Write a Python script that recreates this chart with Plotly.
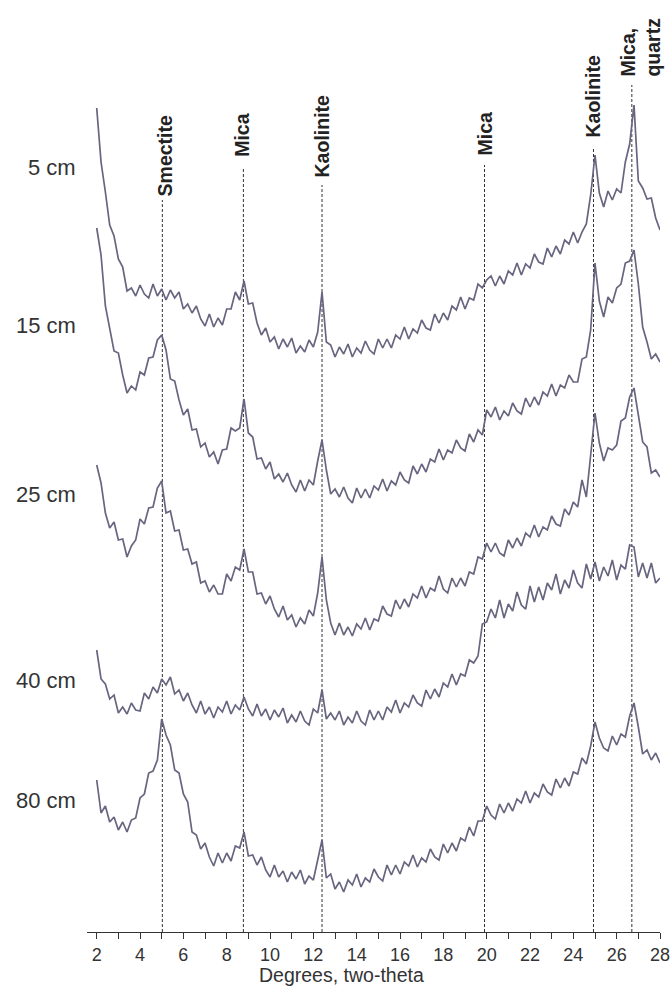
import numpy as np
import plotly.graph_objects as go

# Two-theta sampling grid (degrees)
two_theta = np.round(np.arange(2.0, 28.0001, 0.2), 1)

# Relative intensities (stacked, arbitrary units)
depth_labels = ["5 cm", "15 cm", "25 cm", "40 cm", "80 cm"]
label_levels = [765, 607, 438, 252, 132]

i_5cm = [824,770,740,707,696,673,665,641,644,636,
 647,638,634,648,636,643,632,642,634,640,
 623,628,619,626,613,606,618,605,614,607,
 623,623,640,632,651,628,629,609,597,604,
 590,595,583,593,585,594,579,586,580,592,
 585,600,640,590,587,575,585,578,588,575,
 584,579,591,582,578,593,584,593,584,597,
 593,605,593,603,599,612,604,602,618,609,
 619,612,626,622,635,623,634,632,648,644,
 652,656,646,656,648,661,657,669,657,668,
 664,678,670,668,684,675,686,678,692,688,
 700,689,700,708,737,777,739,725,741,732,
 743,739,770,788,827,751,744,733,734,714,
 702]

i_15cm = [704,677,626,604,581,579,557,539,546,542,
 560,557,574,575,592,597,582,553,551,532,
 517,523,502,503,485,489,475,480,468,482,
 483,504,501,504,533,499,495,473,474,463,
 470,453,458,450,459,447,440,452,441,452,
 447,471,492,462,438,443,435,445,434,429,
 444,434,443,434,446,442,453,441,451,447,
 460,452,449,466,458,468,460,473,470,483,
 472,482,479,492,484,481,498,490,502,497,
 522,515,525,512,521,516,529,521,518,534,
 525,535,527,540,536,548,536,547,544,557,
 550,550,573,575,602,669,631,615,635,629,
 644,648,669,671,682,648,605,590,573,578,
 570]

i_25cm = [467,449,419,404,410,392,393,375,386,392,
 413,408,424,425,444,451,419,421,401,402,
 382,383,368,370,349,351,340,347,338,338,
 358,351,365,362,383,360,360,338,339,328,
 336,323,315,326,312,317,305,314,308,322,
 316,339,375,332,309,297,309,297,305,296,
 308,303,314,302,313,311,326,318,316,332,
 323,333,325,338,334,346,334,344,341,356,
 343,339,354,345,354,346,360,358,375,373,
 389,380,389,379,376,392,384,394,386,399,
 395,407,395,405,402,416,408,406,423,417,
 430,425,452,435,477,519,489,471,484,482,
 487,511,514,535,544,519,490,485,459,462,
 455]

i_40cm = [282,253,248,233,237,219,225,218,229,222,
 221,239,233,245,239,253,247,255,238,242,
 231,239,227,219,231,218,225,214,225,220,
 231,218,227,222,235,223,216,228,216,223,
 212,222,215,224,209,217,210,221,211,207,
 223,219,242,213,219,212,221,207,215,209,
 221,211,207,222,212,221,212,225,220,232,
 219,229,225,237,229,226,242,233,243,235,
 249,245,258,247,258,256,272,269,276,308,
 310,323,314,332,314,328,321,340,327,323,
 346,330,345,332,349,342,358,338,352,344,
 362,349,344,368,353,370,351,365,356,372,
 352,367,363,387,385,355,369,354,369,349,
 354]

i_80cm = [152,119,126,110,115,102,110,100,112,114,
 134,138,159,161,172,213,197,187,162,159,
 138,130,100,97,83,89,75,66,79,69,
 79,71,86,84,100,76,77,67,75,62,
 55,67,55,61,50,60,53,62,48,56,
 52,73,92,54,58,43,50,40,52,47,
 58,45,54,50,63,55,51,67,57,67,
 58,70,66,77,65,74,70,83,75,72,
 88,79,89,81,94,91,105,96,111,111,
 126,117,113,128,119,129,121,133,129,141,
 129,139,135,148,140,137,153,144,154,146,
 160,158,174,168,186,210,194,184,181,196,
 187,198,195,216,229,205,178,182,172,179,
 169]

# Mineral reference lines
mineral_names = ["Smectite", "Mica", "Kaolinite", "Mica", "Kaolinite", "Mica,<br>quartz"]
mineral_pos = [5.03, 8.77, 12.40, 19.90, 24.93, 26.70]
line_tops = [732, 765, 747, 767, 784, 847]
label_bottoms = [735, 774, 754, 775, 794, 854]
label_x = [5.15, 8.70, 12.42, 19.90, 24.93, 27.08]

x_ticks = list(range(2, 29, 2))

series = [i_5cm, i_15cm, i_25cm, i_40cm, i_80cm]
color = "#67657f"

fig = go.Figure()
for name, ys in zip(depth_labels, series):
    fig.add_trace(go.Scatter(x=two_theta, y=ys, mode="lines", name=name,
                             line=dict(color=color, width=1.7), hoverinfo="skip"))

shapes = []
for xp, top in zip(mineral_pos, line_tops):
    shapes.append(dict(type="line", xref="x", yref="y", x0=xp, x1=xp, y0=0, y1=top,
                       line=dict(color="#333333", width=1, dash="3px,2px"), layer="below"))

annotations = []
for nm, xl, yb in zip(mineral_names, label_x, label_bottoms):
    annotations.append(dict(x=xl, y=yb, xref="x", yref="y", text=nm, showarrow=False,
                            textangle=-90, xanchor="center", yanchor="bottom", align="left",
                            borderpad=0,
                            font=dict(family="Liberation Sans", size=19.5, color="#222222",
                                      weight="bold")))
for lab, lev in zip(depth_labels, label_levels):
    annotations.append(dict(x=-0.016, y=lev, xref="paper", yref="y", text=lab, showarrow=False,
                            xanchor="right", yanchor="middle",
                            font=dict(family="Liberation Sans", size=22, color="#333333")))
annotations.append(dict(x=0.445, y=-0.046, xref="paper", yref="paper", text="Degrees, two-theta",
                        showarrow=False, xanchor="center", yanchor="middle",
                        font=dict(family="Liberation Sans", size=19.5, color="#333333")))

fig.update_layout(
    width=671, height=988,
    margin=dict(l=87, r=11, t=0, b=56),
    paper_bgcolor="white", plot_bgcolor="white",
    showlegend=False,
    shapes=shapes, annotations=annotations,
    xaxis=dict(range=[1.552, 28], showgrid=False, zeroline=False,
               showline=True, linecolor="#333333", linewidth=1.3,
               ticks="outside", ticklen=6, tickwidth=1.2, tickcolor="#333333",
               tickvals=x_ticks, ticktext=[str(v) for v in x_ticks],
               tickfont=dict(family="Liberation Sans", size=18, color="#333333"),
               minor=dict(dtick=1, tick0=2, ticks="outside", ticklen=6, tickwidth=1.2,
                          tickcolor="#333333", showgrid=False)),
    yaxis=dict(range=[0, 932], visible=False, showgrid=False, zeroline=False),
)

fig.write_html("out.html")
